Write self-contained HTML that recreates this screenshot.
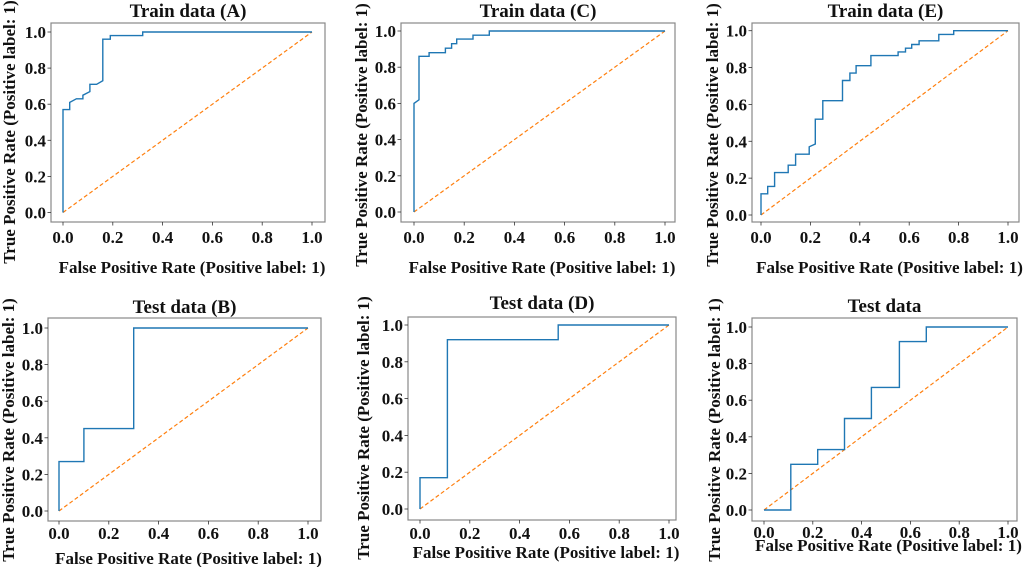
<!DOCTYPE html>
<html><head><meta charset="utf-8"><style>
html,body{margin:0;padding:0;background:#fff;width:1024px;height:567px;overflow:hidden}
svg{display:block}
text{font-family:"Liberation Serif",serif;font-weight:bold;fill:#111}
</style></head><body>
<svg id="fig" width="1024" height="567" viewBox="0 0 1024 567"></svg>
<script>
const tickValues=[0,0.2,0.4,0.6,0.8,1.0];
const tickLabels=["0.0","0.2","0.4","0.6","0.8","1.0"];
const titles=["Train data (A)","Train data (C)","Train data (E)","Test data (B)","Test data (D)","Test data"];
const fprA=[0,0,0.027,0.027,0.054,0.08,0.08,0.108,0.108,0.135,0.16,0.16,0.19,0.19,0.32,0.32,1];
const tprA=[0,0.57,0.57,0.61,0.63,0.63,0.65,0.67,0.71,0.71,0.73,0.96,0.96,0.98,0.98,1,1];
const fprC=[0,0,0.02,0.02,0.06,0.06,0.125,0.125,0.15,0.15,0.17,0.17,0.235,0.235,0.3,0.3,1];
const tprC=[0,0.6,0.62,0.86,0.86,0.88,0.88,0.905,0.905,0.93,0.93,0.955,0.955,0.977,0.977,1,1];
const fprE=[0,0,0.027,0.027,0.055,0.055,0.11,0.11,0.14,0.14,0.195,0.195,0.22,0.22,0.25,0.25,0.33,0.33,0.36,0.36,0.385,0.385,0.445,0.445,0.555,0.555,0.585,0.585,0.61,0.61,0.64,0.64,0.72,0.72,0.78,0.78,1];
const tprE=[0,0.115,0.115,0.155,0.155,0.23,0.23,0.27,0.27,0.33,0.33,0.37,0.385,0.52,0.52,0.62,0.62,0.73,0.73,0.77,0.77,0.81,0.81,0.865,0.865,0.885,0.885,0.905,0.905,0.925,0.925,0.945,0.945,0.98,0.98,1,1];
const fprB=[0,0,0.1,0.1,0.3,0.3,1];
const tprB=[0,0.27,0.27,0.45,0.45,1,1];
const fprD=[0,0,0.11,0.11,0.555,0.555,1];
const tprD=[0,0.17,0.17,0.92,0.92,1,1];
const fprF=[0,0.11,0.11,0.22,0.22,0.33,0.33,0.44,0.44,0.555,0.555,0.665,0.665,1];
const tprF=[0,0,0.25,0.25,0.33,0.33,0.5,0.5,0.67,0.67,0.92,0.92,1,1];
const seriesX=[fprA,fprC,fprE,fprB,fprD,fprF];
const seriesY=[tprA,tprC,tprE,tprB,tprD,tprF];
const layouts=[
 {fl:51,fr:325,ft:23,fb:222,x0:63,x1:312,y0:212.5,y1:32,ylx:9,ylc:132,ty:10,xly:267,tk:15},
 {fl:401,fr:675,ft:23,fb:222,x0:414,x1:665,y0:212,y1:31,ylx:361,ylc:135,ty:10,xly:267,tk:15},
 {fl:752,fr:1019,ft:23,fb:222,x0:761,x1:1008,y0:215,y1:30.7,ylx:712,ylc:135,ty:10,xly:267,tk:15},
 {fl:48,fr:321,ft:318,fb:521,x0:59,x1:308,y0:511,y1:328,ylx:8,ylc:430,ty:306,xly:558,tk:12},
 {fl:408,fr:676,ft:317,fb:520,x0:420,x1:669,y0:509,y1:325,ylx:363,ylc:428,ty:302,xly:552,tk:13},
 {fl:752,fr:1017,ft:318,fb:521,x0:764,x1:1008,y0:510,y1:327,ylx:714,ylc:430,ty:305,xly:545,tk:11}
];
const NS="http://www.w3.org/2000/svg";
const svg=document.getElementById('fig');
function mk(tag,attrs,parent){const e=document.createElementNS(NS,tag);for(const k in attrs)e.setAttribute(k,attrs[k]);parent.appendChild(e);return e;}
layouts.forEach((L,i)=>{
 const sx=v=>L.x0+v*(L.x1-L.x0), sy=v=>L.y0+v*(L.y1-L.y0);
 const g=mk('g',{},svg);
 
 
 const fr=mk('rect',{x:L.fl,y:L.ft,width:L.fr-L.fl,height:L.fb-L.ft,fill:'none',stroke:'#888','stroke-width':1.2},g);
 
 
 const cx=(L.fl+L.fr)/2;
 const t=mk('text',{x:cx,y:L.ty+7,'text-anchor':'middle','font-size':19},g);t.textContent=titles[i];
 
 
 const xl=mk('text',{x:cx+4,y:L.xly+6,'text-anchor':'middle','font-size':17},g);xl.textContent='False Positive Rate (Positive label: 1)';
 
 
 const yl=mk('text',{x:0,y:0,'text-anchor':'middle','font-size':17,transform:`translate(${L.ylx+6},${L.ylc}) rotate(-90)`},g);yl.textContent='True Positive Rate (Positive label: 1)';
 
 
 tickValues.forEach((v,j)=>{
  mk('line',{x1:sx(v),x2:sx(v),y1:L.fb,y2:L.fb+3.5,stroke:'#333','stroke-width':0.8},g);
  const tx=mk('text',{x:sx(v),y:L.fb+L.tk+6,'text-anchor':'middle','font-size':17},g);tx.textContent=tickLabels[j];
  
  
  mk('line',{x1:L.fl-3.5,x2:L.fl,y1:sy(v),y2:sy(v),stroke:'#333','stroke-width':0.8},g);
  const ty=mk('text',{x:L.fl-5,y:sy(v)+6,'text-anchor':'end','font-size':17},g);ty.textContent=tickLabels[j];
  
  
 });
 const d=mk('line',{x1:sx(0),y1:sy(0),x2:sx(1),y2:sy(1),stroke:'#ff7f0e','stroke-width':1.2,'stroke-dasharray':'4,2.5'},g);
 
 
 const xs=seriesX[i], ys=seriesY[i];
 const pts=xs.map((x,k)=>sx(x).toFixed(1)+','+sy(ys[k]).toFixed(1)).join(' ');
 const pl=mk('polyline',{points:pts,fill:'none',stroke:'#1f77b4','stroke-width':1.4},g);
 
 
});
</script>
</body></html>
